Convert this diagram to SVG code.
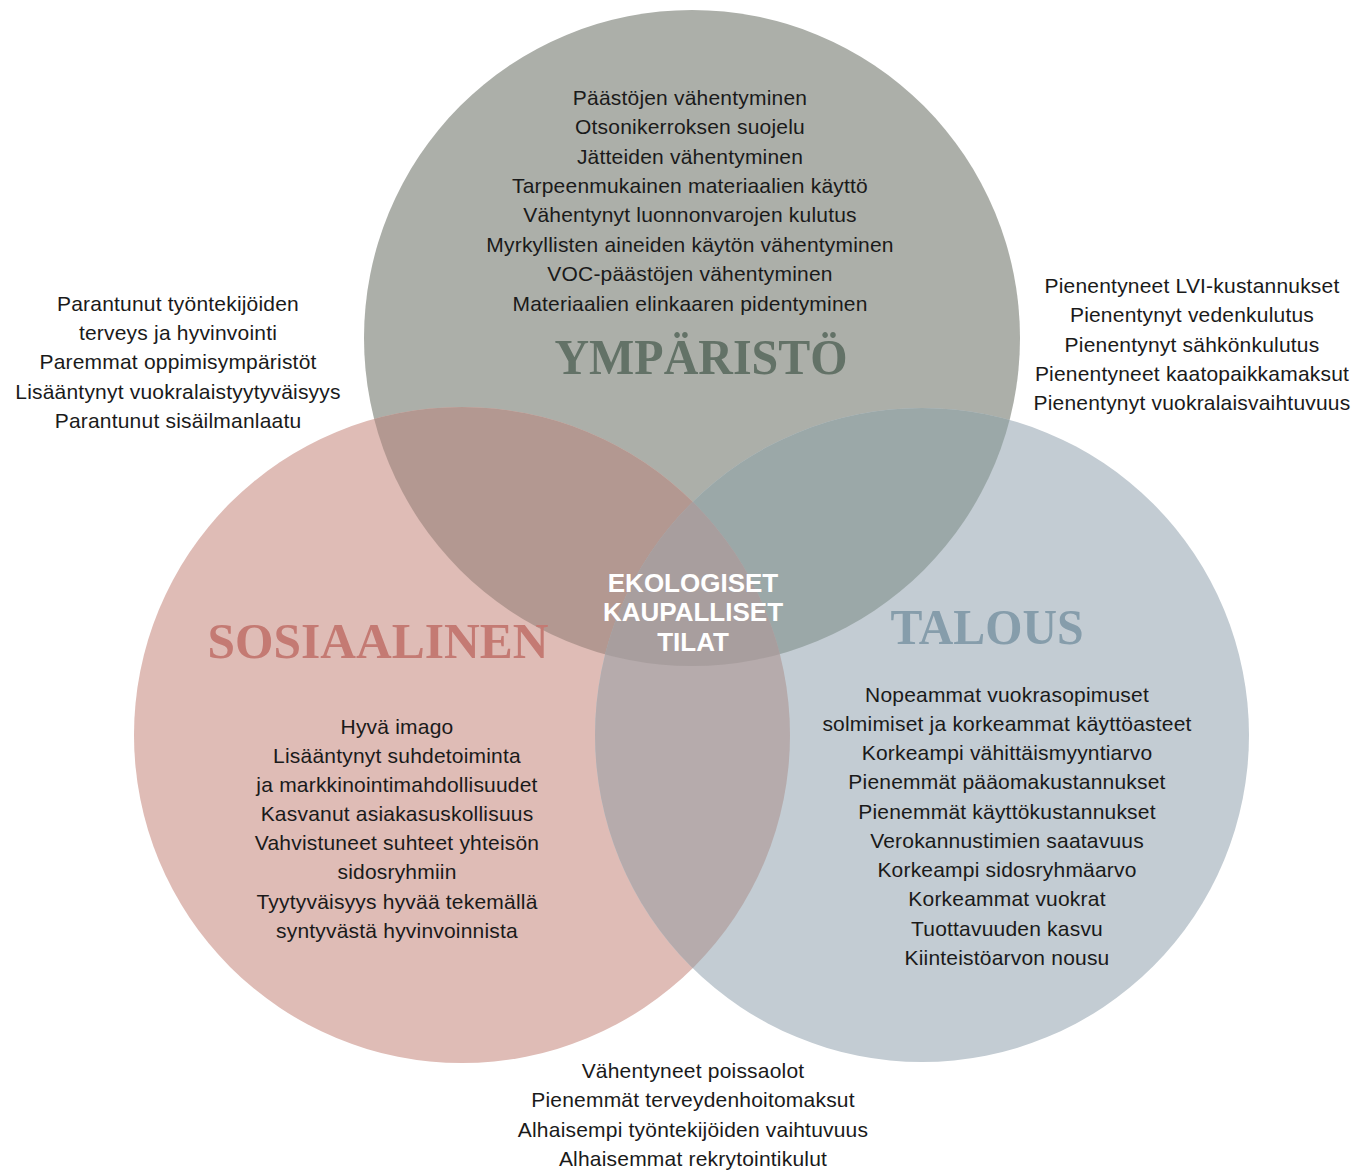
<svg xmlns="http://www.w3.org/2000/svg" width="1353" height="1171" viewBox="0 0 1353 1171">
<style>
.t{font-family:"Liberation Sans",Arial,sans-serif;font-size:21px;letter-spacing:0.2px;fill:#1a1a1a;text-anchor:middle}
.h{font-family:"Liberation Serif","Times New Roman",serif;font-weight:bold;font-size:50px;text-anchor:middle}
.c{font-family:"Liberation Sans",Arial,sans-serif;font-weight:bold;font-size:26px;fill:#ffffff;text-anchor:middle}
</style>
<defs>
<clipPath id="cTop"><circle cx="692" cy="338" r="328"/></clipPath>
<clipPath id="cLeft"><circle cx="462" cy="735" r="328"/></clipPath>
<clipPath id="cRight"><circle cx="922" cy="735" r="327"/></clipPath>
</defs>
<rect width="1353" height="1171" fill="#ffffff"/>
<g id="circles">
<circle cx="692" cy="338" r="328" fill="#acafa9"/>
<circle cx="462" cy="735" r="328" fill="#dfbcb6"/>
<circle cx="922" cy="735" r="327" fill="#c3ccd3"/>
<circle cx="462" cy="735" r="328" fill="#b39891" clip-path="url(#cTop)"/>
<circle cx="922" cy="735" r="327" fill="#9ba8a8" clip-path="url(#cTop)"/>
<circle cx="922" cy="735" r="327" fill="#b6abac" clip-path="url(#cLeft)"/>
<g clip-path="url(#cTop)"><circle cx="922" cy="735" r="327" fill="#a89e9e" clip-path="url(#cLeft)"/></g>
</g>
<g id="ymparisto">
<text class="t" x="690" y="105">Päästöjen vähentyminen</text>
<text class="t" x="690" y="134">Otsonikerroksen suojelu</text>
<text class="t" x="690" y="164">Jätteiden vähentyminen</text>
<text class="t" x="690" y="193">Tarpeenmukainen materiaalien käyttö</text>
<text class="t" x="690" y="222">Vähentynyt luonnonvarojen kulutus</text>
<text class="t" x="690" y="252">Myrkyllisten aineiden käytön vähentyminen</text>
<text class="t" x="690" y="281">VOC-päästöjen vähentyminen</text>
<text class="t" x="690" y="311">Materiaalien elinkaaren pidentyminen</text>
<text class="h" x="701" y="374" fill="#637267" textLength="293" lengthAdjust="spacingAndGlyphs">YMPÄRISTÖ</text>
</g>
<g id="ymparisto-sosiaalinen">
<text class="t" x="178" y="311">Parantunut työntekijöiden</text>
<text class="t" x="178" y="340">terveys ja hyvinvointi</text>
<text class="t" x="178" y="369">Paremmat oppimisympäristöt</text>
<text class="t" x="178" y="399">Lisääntynyt vuokralaistyytyväisyys</text>
<text class="t" x="178" y="428">Parantunut sisäilmanlaatu</text>
</g>
<g id="ymparisto-talous">
<text class="t" x="1192" y="293">Pienentyneet LVI-kustannukset</text>
<text class="t" x="1192" y="322">Pienentynyt vedenkulutus</text>
<text class="t" x="1192" y="352">Pienentynyt sähkönkulutus</text>
<text class="t" x="1192" y="381">Pienentyneet kaatopaikkamaksut</text>
<text class="t" x="1192" y="410">Pienentynyt vuokralaisvaihtuvuus</text>
</g>
<g id="keskus">
<text class="c" x="693" y="592">EKOLOGISET</text>
<text class="c" x="693" y="621">KAUPALLISET</text>
<text class="c" x="693" y="651">TILAT</text>
</g>
<g id="sosiaalinen">
<text class="h" x="378" y="658" fill="#c47a73" textLength="341" lengthAdjust="spacingAndGlyphs">SOSIAALINEN</text>
<text class="t" x="397" y="734">Hyvä imago</text>
<text class="t" x="397" y="763">Lisääntynyt suhdetoiminta</text>
<text class="t" x="397" y="792">ja markkinointimahdollisuudet</text>
<text class="t" x="397" y="821">Kasvanut asiakasuskollisuus</text>
<text class="t" x="397" y="850">Vahvistuneet suhteet yhteisön</text>
<text class="t" x="397" y="879">sidosryhmiin</text>
<text class="t" x="397" y="909">Tyytyväisyys hyvää tekemällä</text>
<text class="t" x="397" y="938">syntyvästä hyvinvoinnista</text>
</g>
<g id="talous">
<text class="h" x="987" y="644" fill="#869dab" textLength="193" lengthAdjust="spacingAndGlyphs">TALOUS</text>
<text class="t" x="1007" y="702">Nopeammat vuokrasopimuset</text>
<text class="t" x="1007" y="731">solmimiset ja korkeammat käyttöasteet</text>
<text class="t" x="1007" y="760">Korkeampi vähittäismyyntiarvo</text>
<text class="t" x="1007" y="789">Pienemmät pääomakustannukset</text>
<text class="t" x="1007" y="819">Pienemmät käyttökustannukset</text>
<text class="t" x="1007" y="848">Verokannustimien saatavuus</text>
<text class="t" x="1007" y="877">Korkeampi sidosryhmäarvo</text>
<text class="t" x="1007" y="906">Korkeammat vuokrat</text>
<text class="t" x="1007" y="936">Tuottavuuden kasvu</text>
<text class="t" x="1007" y="965">Kiinteistöarvon nousu</text>
</g>
<g id="sosiaalinen-talous">
<text class="t" x="693" y="1078">Vähentyneet poissaolot</text>
<text class="t" x="693" y="1107">Pienemmät terveydenhoitomaksut</text>
<text class="t" x="693" y="1137">Alhaisempi työntekijöiden vaihtuvuus</text>
<text class="t" x="693" y="1166">Alhaisemmat rekrytointikulut</text>
</g>
<g id="connectors"/>
</svg>
